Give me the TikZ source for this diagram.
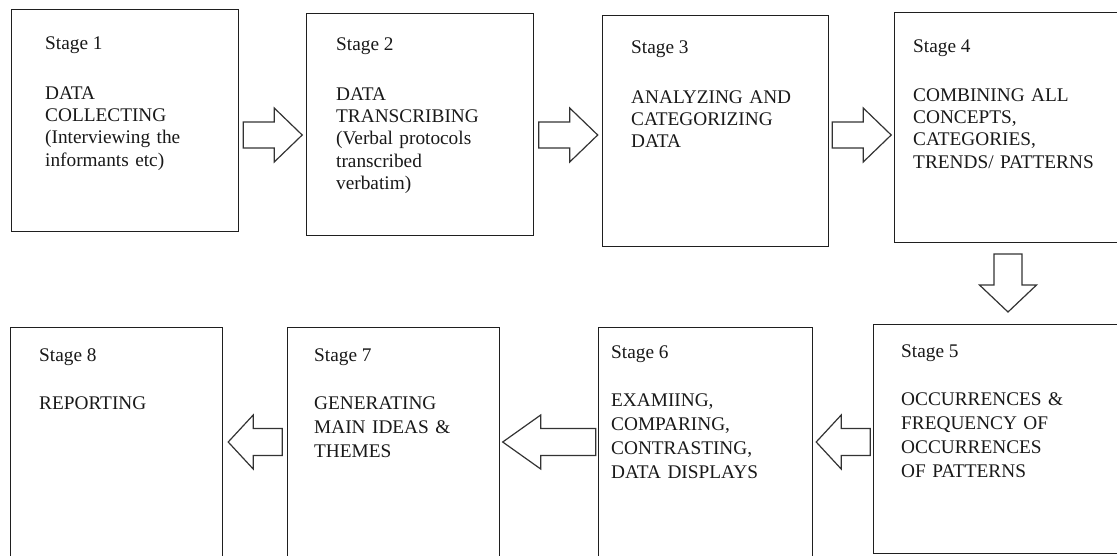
\documentclass[tikz,border=0pt]{standalone}
\usepackage{fontspec}
\setmainfont{Liberation Serif}
\usetikzlibrary{calc}

\tikzset{
  stagebox/.style={draw=black!88, line width=1.4pt, rectangle, inner sep=0pt, anchor=north west},
  stagetitle/.style={inner sep=0pt, anchor=base west, text=black!90,
    font=\fontsize{19.3}{22.4}\selectfont},
  stagebody/.style={inner sep=0pt, anchor=base west, text=black!90, align=left,
    text width=215pt, font=\fontsize{19.3}{22.4}\selectfont},
  stagebodyb/.style={stagebody, font=\fontsize{19.3}{24}\selectfont},
  arrowline/.style={draw=black!80, line width=1.2pt, line join=miter, fill=white},
  % block arrow pointing right, centred on the pic origin:
  % total length / head length / shaft half width / head half width
  pics/blockarrow/.style args={#1/#2/#3/#4}{code={
    \draw[arrowline] (-#1/2,-#3) -- (#1/2-#2,-#3) -- (#1/2-#2,-#4) -- (#1/2,0)
      -- (#1/2-#2,#4) -- (#1/2-#2,#3) -- (-#1/2,#3) -- cycle;
  }}
}

\begin{document}
\begin{tikzpicture}[x=1pt, y=-1pt]
\useasboundingbox (0,0) rectangle (1117,555);
\fill[white] (0,0) rectangle (1117,555);
\clip (0,0) rectangle (1117,555);

% top row
\node[stagebox, minimum width=227, minimum height=222] (s1) at (11,9) {};
\node[stagebox, minimum width=227, minimum height=222] (s2) at (306,13) {};
\node[stagebox, minimum width=226, minimum height=231] (s3) at (602,15) {};
\node[stagebox, minimum width=240, minimum height=230] (s4) at (894,12) {};

% bottom row
\node[stagebox, minimum width=260, minimum height=229] (s5) at (873,324) {};
\node[stagebox, minimum width=214, minimum height=250] (s6) at (598,327) {};
\node[stagebox, minimum width=212, minimum height=250] (s7) at (287,327) {};
\node[stagebox, minimum width=212, minimum height=250] (s8) at (10,327) {};

% texts
\node[stagetitle] (t1) at (45,49) {Stage 1};
\node[stagebody]  (b1) at (45,99) {DATA\\COLLECTING\\(Interviewing the\\informants etc)};

\node[stagetitle] (t2) at (336,50) {Stage 2};
\node[stagebody]  (b2) at (336,100) {DATA\\TRANSCRIBING\\(Verbal protocols\\transcribed\\verbatim)};

\node[stagetitle] (t3) at (631,53) {Stage 3};
\node[stagebody]  (b3) at (631,103) {ANALYZING AND\\CATEGORIZING\\DATA};

\node[stagetitle] (t4) at (913,52) {Stage 4};
\node[stagebody]  (b4) at (913,101) {COMBINING ALL\\CONCEPTS,\\CATEGORIES,\\TRENDS/ PATTERNS};

\node[stagetitle] (t5) at (901,357) {Stage 5};
\node[stagebodyb] (b5) at (901,405) {OCCURRENCES \&\\FREQUENCY OF\\OCCURRENCES\\OF PATTERNS};

\node[stagetitle] (t6) at (611,358) {Stage 6};
\node[stagebodyb] (b6) at (611,406) {EXAMIING,\\COMPARING,\\CONTRASTING,\\DATA DISPLAYS};

\node[stagetitle] (t7) at (314,361) {Stage 7};
\node[stagebodyb] (b7) at (314,409) {GENERATING\\MAIN IDEAS \&\\THEMES};

\node[stagetitle] (t8) at (39,361) {Stage 8};
\node[stagebodyb] (b8) at (39,409) {REPORTING};

% arrow positions between neighbouring boxes
\coordinate (m12) at ($(s1.east)!0.5!(s2.west)$);
\coordinate (m23) at ($(s2.east)!0.5!(s3.west)$);
\coordinate (m34) at ($(s3.east)!0.5!(s4.west)$);
\coordinate (m45) at ($(s4.south)!0.5!(s5.north)$);
\coordinate (m56) at ($(s5.west)!0.5!(s6.east)$);
\coordinate (m67) at ($(s6.west)!0.5!(s7.east)$);
\coordinate (m78) at ($(s7.west)!0.5!(s8.east)$);

\pic at (m12 |- 0,135) {blockarrow=59/28/13/27};
\pic at (m23 |- 0,135) {blockarrow=59/28/13/27};
\pic at (m34 |- 0,135) {blockarrow=59/28/13/27};
\pic[rotate=-90] at (1008,283 -| 1008,0) {blockarrow=58/27/14/28.5};
\pic[rotate=180] at (m56 |- 0,442) {blockarrow=54/25/13.5/27};
\pic[rotate=180] at (m67 |- 0,442) {blockarrow=93/38/13.5/27};
\pic[rotate=180] at (m78 |- 0,442) {blockarrow=54/25/13.5/27};
\end{tikzpicture}
\end{document}
